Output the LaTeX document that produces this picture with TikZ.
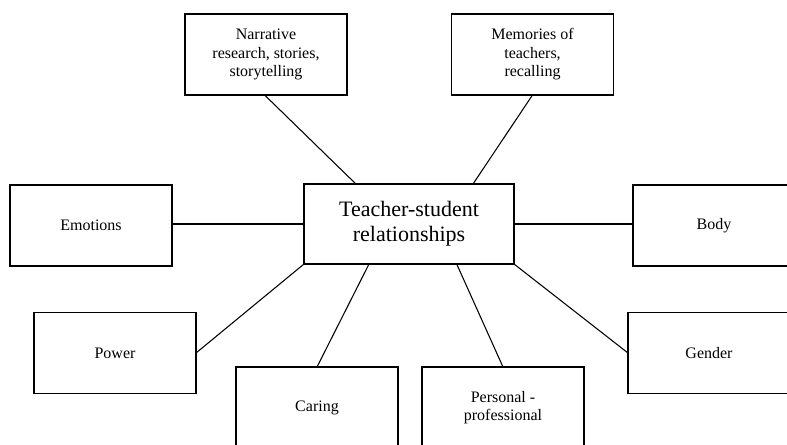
\documentclass[tikz,border=0pt]{standalone}
\usepackage{fontspec}
\setmainfont{Liberation Serif}
\usepackage{tikz}
\usetikzlibrary{positioning}
\tikzset{>=latex}
\tikzset{topic/.style={draw, line width=0.8pt, minimum width=121.5pt, minimum height=60.75pt,
    inner sep=0pt, outer sep=0pt, align=center, font=\fontsize{12}{13.9}\selectfont}}
\tikzset{hub/.style={topic, minimum width=157.5pt, minimum height=60pt,
    font=\fontsize{16.5}{19}\selectfont}}
\tikzset{link/.style={line width=0.8pt}}

\begin{document}
\begin{tikzpicture}[x=0.75pt, y=-0.75pt]
      \clip (0,0) rectangle (787,444);
      \useasboundingbox (0,0) rectangle (787,444);
      \node[hub] (cent) at (409,224) {Teacher-student\\relationships};
      \node[topic] (narr) at (266,54.5) {Narrative\\research, stories,\\storytelling};
      \node[topic] (mem) at (532.5,54.5) {Memories of\\teachers,\\recalling};
      \node[topic] (emo) at (91,225.5) {Emotions};
      \node[topic] (body) at (714,225.5) {Body};
      \node[topic] (power) at (115,353) {Power};
      \node[topic] (gender) at (709,353) {Gender};
      \node[topic] (caring) at (317,407.5) {Caring};
      \node[topic] (pers) at (503,407.5) {Personal -\\professional};
      \draw[link] (narr.-92) -- (cent.143.5);
      \draw[link] (mem.south) -- (cent.32.4);
      \draw[link] (cent.west) -- (cent.west -| emo.east);
      \draw[link] (cent.east) -- (cent.east -| body.west);
      \draw[link] (cent.south west) -- (power.east);
      \draw[link] (cent.225) -- (caring.north);
      \draw[link] (cent.320.8) -- (pers.north);
      \draw[link] (cent.south east) -- (gender.west);
    \end{tikzpicture}
\end{document}
